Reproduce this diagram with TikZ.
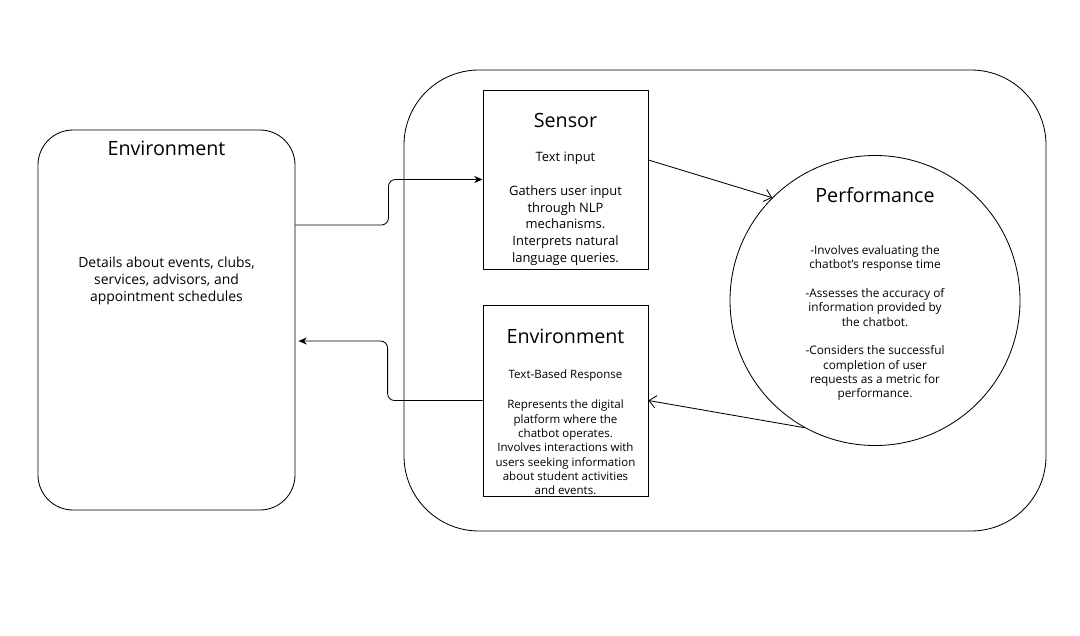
\documentclass[tikz,border=0pt]{standalone}
\usepackage{fontspec}
\setmainfont{Open Sans}
\usetikzlibrary{arrows.meta}

\begin{document}
\begin{tikzpicture}[
    line width=0.6pt,
    roundbox/.style={draw, rounded corners=0.875cm, minimum width=6.425cm, minimum height=9.5cm},
    sqbox/.style={draw, minimum width=4.125cm},
    heading/.style={font=\fontsize{14}{17}\selectfont},
    body/.style={align=center, font=\fontsize{9.9}{12}\selectfont},
    small/.style={align=center, font=\fontsize{8.2}{10.2}\selectfont},
    flow/.style={-{Stealth[length=6pt,width=5pt]}, rounded corners=5pt},
    openflow/.style={-{Straight Barb[length=5pt,width=9pt]}}
  ]
    \useasboundingbox (0,0) rectangle (27,-15.875);

    % outer agent frame
    \node[draw, rounded corners=1.875cm, minimum width=16.05cm, minimum height=11.525cm] (agent) at (18.125,-7.5125) {};

    % left environment
    \node[roundbox] (envL) at (4.1625,-8) {};
    \node[heading] (envLtitle) at ([yshift=-0.475cm]envL.north) {Environment};
    \node[body] (envLtext) at ([yshift=-3.775cm]envL.north) {Details about events, clubs,\\ services, advisors, and\\ appointment schedules};

    % sensor
    \node[sqbox, minimum height=4.475cm] (sensor) at (14.1375,-4.4875) {};
    \node[heading] (sensortitle) at ([yshift=-0.775cm]sensor.north) {Sensor};
    \node[body, font=\fontsize{9.2}{12}\selectfont] (sensorsub) at ([yshift=-1.725cm]sensor.north) {Text input};
    \node[body, font=\fontsize{9.2}{12}\selectfont] (sensortext) at ([yshift=-3.4cm]sensor.north) {Gathers user input\\ through NLP\\ mechanisms.\\ Interprets natural\\ language queries.};

    % environment (response)
    \node[sqbox, minimum height=4.775cm] (envR) at (14.1375,-10.0125) {};
    \node[heading] (envRtitle) at ([yshift=-0.8cm]envR.north) {Environment};
    \node[small] (envRsub) at ([yshift=-1.775cm]envR.north) {Text-Based Response};
    \node[small] (envRtext) at ([yshift=-3.575cm]envR.north) {Represents the digital\\ platform where the\\ chatbot operates.\\ Involves interactions with\\ users seeking information\\ about student activities\\ and events.};

    % performance
    \node[draw, circle, minimum size=7.25cm] (perf) at (21.875,-7.5125) {};
    \node[heading] (perftitle) at ([yshift=2.6375cm]perf.center) {Performance};
    \node[small, font=\fontsize{8.4}{10.2}\selectfont] (perftext) at ([yshift=-0.5625cm]perf.center) {-Involves evaluating the\\ chatbot's response time\\[10.2pt] -Assesses the accuracy of\\ information provided by\\ the chatbot.\\[10.2pt] -Considers the successful\\ completion of user\\ requests as a metric for\\ performance.};

    % connectors
    \draw[flow] ([yshift=2.375cm]envL.east) -- ++(2.325,0) |- (sensor.west);
    \draw[flow] (envR.west) -- ++(-2.375,0) |- ([xshift=0.075cm,yshift=-0.525cm]envL.east);
    \draw[openflow] ([yshift=0.4875cm]sensor.east) -- (perf.135);
    \draw[openflow] (perf.241.5) -- (envR.east);
\end{tikzpicture}
\end{document}
